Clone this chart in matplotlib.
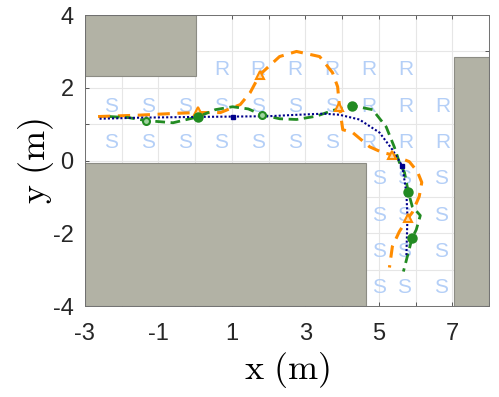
import matplotlib
matplotlib.use('Agg')
from matplotlib import pyplot as plt
from matplotlib.patches import Rectangle

plt.rcParams['mathtext.fontset'] = 'cm'
plt.rcParams['font.family'] = ['Liberation Sans', 'DejaVu Sans']

# obstacles: (x0, y0, width, height)
obstacles = [(-3.0, 2.33, 3.03, 1.67), (-3.0, -4.0, 7.65, 3.92), (7.05, -4.0, 0.95, 6.86)]

# cell labels
label_x_top = [-2.28, -1.28, -0.28, 0.72, 1.72, 2.72, 3.72]
label_x_r = [4.74, 5.74, 6.74]
r_row_x = [0.72, 1.72, 2.72, 3.72, 4.74, 5.74]
s_low_x = [5.0, 5.7, 6.7]
s_low_y = [-0.5, -1.5, -2.5, -3.5]

# trajectories
blue_x = [-2.6, -1.5, 0.0, 1.02, 2.0, 2.8, 3.5, 3.93, 4.47, 5.02, 5.37, 5.64, 5.75, 5.78, 5.75]
blue_y = [1.15, 1.18, 1.2, 1.21, 1.22, 1.26, 1.29, 1.26, 1.13, 0.77, 0.3, -0.15, -0.88, -1.54, -2.66]
blue_mx = [1.02, 5.64]
blue_my = [1.21, -0.15]

green_x = [-2.32, -1.8, -1.34, -0.6, 0.07, 0.55, 1.02, 1.45, 1.81, 2.3, 2.76, 3.3, 3.75, 4.28,
           4.83, 5.2, 5.42, 5.56, 5.7, 5.8, 5.91, 6.13, 6.02, 5.91, 5.67]
green_y = [1.21, 1.18, 1.1, 1.04, 1.2, 1.4, 1.48, 1.42, 1.26, 1.15, 1.13, 1.22, 1.38, 1.51,
           1.4, 0.93, 0.38, -0.05, -0.33, -0.85, -1.26, -1.51, -1.9, -2.12, -3.05]
green_mx = [-1.34, 0.07, 1.81, 4.28, 5.8, 5.91]
green_my = [1.1, 1.2, 1.26, 1.51, -0.85, -2.12]
green_open = [True, False, True, False, False, False]

orange_x = [-2.64, -1.5, -0.5, 0.07, 0.69, 1.23, 1.5, 1.76, 2.3, 2.76, 3.39, 3.74, 3.88, 3.93,
            4.02, 4.29, 4.75, 5.1, 5.37, 5.83, 6.05, 6.17, 6.1, 5.91, 5.8, 5.56, 5.37, 5.29]
orange_y = [1.21, 1.25, 1.3, 1.32, 1.32, 1.54, 1.87, 2.36, 2.86, 3.0, 2.86, 2.42, 2.03, 1.48,
            0.85, 0.77, 0.38, 0.22, 0.16, -0.03, -0.3, -0.6, -0.99, -1.43, -1.57, -1.95, -2.36, -2.94]
orange_mx = [0.07, 1.76, 3.93, 5.37, 5.8]
orange_my = [1.35, 2.36, 1.48, 0.16, -1.57]

fig = plt.figure(figsize=(4.99, 3.97), dpi=100)
ax = fig.add_axes([0.170, 0.229, 0.810, 0.733])

ax.set_xlim(-3, 8)
ax.set_ylim(-4, 4)
ax.set_xticks(range(-3, 9))
ax.set_xticklabels([str(v) if v % 2 else '' for v in range(-3, 9)])
ax.set_yticks(range(-4, 5))
ax.set_yticklabels([str(v) if v % 2 == 0 else '' for v in range(-4, 5)])
ax.grid(True, color='#e6e6e6', linewidth=0.8)
ax.set_axisbelow(True)
ax.tick_params(direction='in', length=3, width=0.6, color='#404040', labelsize=17,
               labelcolor='#262626', top=True, right=True)
ax.tick_params(axis='x', pad=12)
ax.tick_params(axis='y', pad=8)
for s in ax.spines.values():
    s.set_color('#707070')
    s.set_linewidth(0.7)

txt_color = '#b4cff7'
for x in label_x_top:
    ax.text(x, 1.5, 'S', color=txt_color, fontsize=15, ha='center', va='center', zorder=1)
    ax.text(x, 0.5, 'S', color=txt_color, fontsize=15, ha='center', va='center', zorder=1)
for x in label_x_r:
    ax.text(x, 1.5, 'R', color=txt_color, fontsize=15, ha='center', va='center', zorder=1)
    ax.text(x, 0.5, 'R', color=txt_color, fontsize=15, ha='center', va='center', zorder=1)
for x in r_row_x:
    ax.text(x, 2.5, 'R', color=txt_color, fontsize=15, ha='center', va='center', zorder=1)
for y in s_low_y:
    for x in s_low_x:
        ax.text(x, y, 'S', color=txt_color, fontsize=15, ha='center', va='center', zorder=1)

for (x0, y0, w, h) in obstacles:
    ax.add_patch(Rectangle((x0, y0), w, h, facecolor='#b2b2a5', edgecolor='#8c8c84',
                           linewidth=0.8, zorder=2))

ax.plot(orange_x, orange_y, color='#ff8c00', linestyle=(0, (4, 2.5)), linewidth=2.2, zorder=3)
ax.plot(orange_mx, orange_my, '^', color='#ff8c00', markersize=5.5, markerfacecolor='#ffd9a8',
        markeredgewidth=1.5, zorder=5)

ax.plot(green_x, green_y, color='#228b22', linestyle=(0, (3.5, 2)), linewidth=2.0, zorder=4)
for mx, my, op in zip(green_mx, green_my, green_open):
    ax.plot(mx, my, 'o', color='#228b22', markersize=6 if not op else 5,
            markerfacecolor='#9fd39f' if op else '#228b22', markeredgewidth=1.5, zorder=5)

ax.plot(blue_x, blue_y, color='#00008b', linestyle=(0, (1, 1)), linewidth=1.5, zorder=4)
ax.plot(blue_mx, blue_my, 's', color='#00008b', markersize=3.5, zorder=5)

ax.set_xlabel(r'$\mathrm{x\ (m)}$', fontsize=26, labelpad=4)
ax.set_ylabel(r'$\mathrm{y\ (m)}$', fontsize=26, labelpad=-2)

fig.savefig('out.png', dpi=100)
